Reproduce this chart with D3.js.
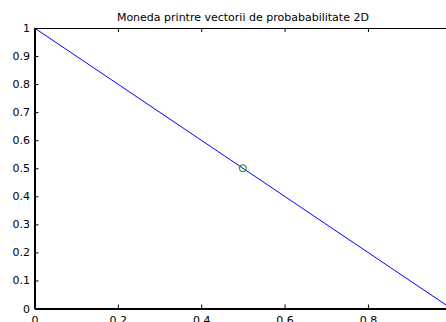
<!DOCTYPE html>
<html>
<head>
<meta charset="utf-8">
<script src="https://cdn.jsdelivr.net/npm/d3@7"></script>
<style>
  html, body { margin: 0; padding: 0; background: #fff; overflow: hidden; }
  svg { display: block; font-family: "DejaVu Sans", Arial, Helvetica, sans-serif; }
</style>
</head>
<body>
<div id="chart"></div>
<script>
const chartTitle = "Moneda printre vectorii de probababilitate 2D";
const lineX = [0, 1];
const lineY = [1, 0];
const markerX = [0.5];
const markerY = [0.5];
const xTicks = [0, 0.2, 0.4, 0.6, 0.8, 1];
const yTicks = [0, 0.1, 0.2, 0.3, 0.4, 0.5, 0.6, 0.7, 0.8, 0.9, 1];

const width = 446, height = 322;
const plot = { left: 34.5, right: 451.3, top: 28, bottom: 308.5 };
const fontFamily = '"DejaVu Sans", Arial, sans-serif';

const svg = d3.select("#chart").append("svg")
    .attr("width", width).attr("height", height);

const x = d3.scaleLinear().domain([0, 1]).range([plot.left, plot.right]);
const y = d3.scaleLinear().domain([0, 1]).range([plot.bottom, plot.top]);

// data line
const line = d3.line().x((d, i) => x(lineX[i])).y((d, i) => y(lineY[i]));
svg.append("path")
    .datum(lineX)
    .attr("d", line)
    .attr("fill", "none")
    .attr("stroke", "#0000ff")
    .attr("stroke-width", 1);

svg.selectAll("circle.marker")
    .data(markerX)
    .enter().append("circle")
    .attr("class", "marker")
    .attr("cx", (d) => x(d))
    .attr("cy", (d, i) => y(markerY[i]))
    .attr("r", 3.5)
    .attr("fill", "none")
    .attr("stroke", "#008000")
    .attr("stroke-width", 1);

// axes, matlab style: ticks inward
const fmt = d => String(d);
const xAxisB = d3.axisBottom(x).tickValues(xTicks).tickSizeInner(-4).tickSizeOuter(0).tickPadding(7.5).tickFormat(fmt);
const xAxisT = d3.axisTop(x).tickValues(xTicks).tickSizeInner(-4).tickSizeOuter(0).tickFormat("");
const yAxisL = d3.axisLeft(y).tickValues(yTicks).tickSizeInner(-4).tickSizeOuter(0).tickPadding(4.5).tickFormat(fmt);

const gB = svg.append("g").attr("transform", `translate(0,${plot.bottom})`).call(xAxisB);
const gT = svg.append("g").attr("transform", `translate(0,${plot.top})`).call(xAxisT);
const gL = svg.append("g").attr("transform", `translate(${plot.left},0)`).call(yAxisL);

[gB, gT, gL].forEach(g => {
    g.selectAll("text").attr("fill", "#000").style("font-size", "11px")
        .style("font-family", fontFamily);
    g.selectAll("line").attr("stroke", "#000");
    g.select(".domain").attr("stroke", "#000");
});
gB.select(".domain").attr("stroke-width", 2);
gL.select(".domain").attr("stroke-width", 2);
gT.select(".domain").attr("stroke-width", 1.2);

svg.append("text")
    .attr("x", (plot.left + plot.right) / 2)
    .attr("y", 21)
    .attr("text-anchor", "middle")
    .style("font-size", "11px")
    .style("font-family", fontFamily)
    .attr("fill", "#000")
    .text(chartTitle);
</script>
</body>
</html>
